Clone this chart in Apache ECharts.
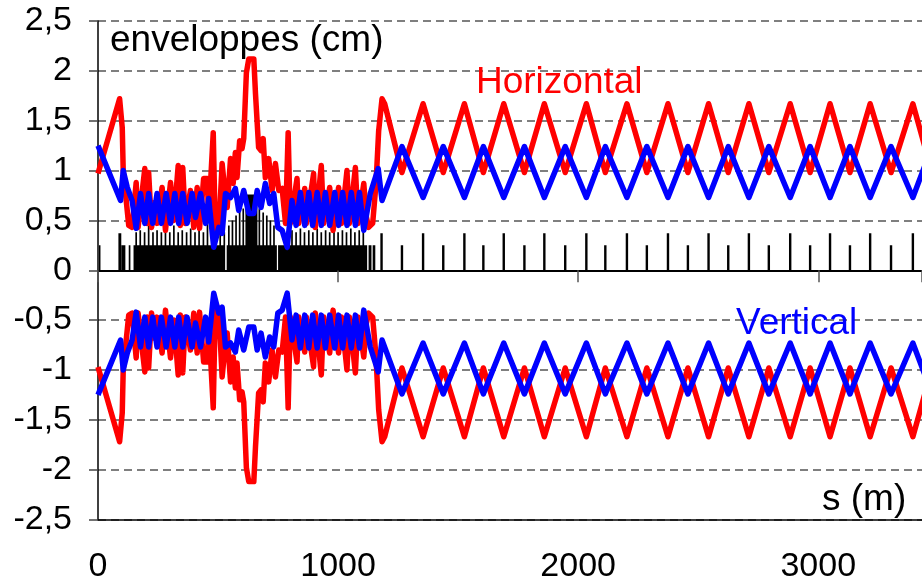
<!DOCTYPE html>
<html>
<head>
<meta charset="utf-8">
<script src="https://cdn.jsdelivr.net/npm/echarts@6/dist/echarts.min.js"></script>
<style>
html,body{margin:0;padding:0;background:#fff;}
#chart{width:922px;height:587px;}
</style>
</head>
<body>
<div id="chart"></div>
<script>
// s (m) vs envelope (cm), horizontal plane (upper half, mirrored below)
const horizontal = [
 [0,0.97],[90,1.72],[101,1.43],[105,1.0],[128,0.45],[142,0.43],[159,0.88],[167,0.43],[195,1.02],[205,0.47],
 [211,0.98],[223,0.43],[236,0.68],[246,0.47],[267,0.83],[281,0.40],[302,0.88],[316,0.50],[334,1.05],[343,0.45],
 [353,1.03],[364,0.47],[385,0.80],[399,0.43],[413,0.83],[423,0.42],[440,0.92],[455,0.92],[461,0.53],[480,1.38],
 [489,0.33],[503,0.40],[517,1.07],[524,0.90],[538,0.63],[552,1.12],[563,0.87],[572,1.18],[579,0.93],[590,1.30],
 [600,1.22],[607,1.32],[618,1.98],[628,2.12],[649,2.12],[656,1.77],[669,1.23],[679,1.20],[688,1.32],[697,0.93],
 [711,1.12],[725,0.80],[739,1.07],[753,0.80],[767,0.82],[781,0.47],[792,1.38],[801,0.47],[829,0.92],[836,0.47],
 [861,0.82],[868,0.47],[898,0.97],[905,0.43],[930,1.05],[940,0.47],[965,0.83],[979,0.40],[1002,0.83],[1014,0.47],
 [1037,1.00],[1047,0.47],[1072,1.03],[1083,0.47],[1107,0.87],[1118,0.53],[1127,0.43],[1144,0.47],[1158,0.87],[1169,1.40],
 [1183,1.72],[1194,1.67],[1266,0.98],[1354,1.67],[1438,0.98],[1526,1.67],[1605,0.98],[1690,1.67],[1776,0.98],[1859,1.67],
 [1946,0.98],[2034,1.67],[2113,0.98],[2203,1.67],[2286,0.98],[2374,1.67],[2457,0.98],[2543,1.67],[2625,0.98],[2711,1.67],
 [2794,0.98],[2883,1.67],[2966,0.98],[3049,1.67],[3132,0.98],[3216,1.67],[3303,0.98],[3394,1.67],[3474,0.98]
];
// vertical plane
const vertical = [
 [0,1.25],[94,0.70],[105,1.0],[122,0.83],[142,0.70],[159,0.42],[177,0.77],[195,0.47],[211,0.77],[228,0.47],
 [246,0.77],[264,0.47],[284,0.77],[302,0.47],[320,0.77],[336,0.47],[353,0.77],[371,0.47],[392,0.77],[406,0.53],
 [427,0.77],[448,0.47],[461,0.72],[482,0.23],[503,0.43],[517,0.37],[531,0.77],[552,0.73],[572,0.82],[586,0.60],
 [607,0.80],[628,0.57],[649,0.57],[663,0.80],[679,0.63],[697,0.87],[715,0.67],[732,0.77],[749,0.43],[767,0.40],
 [788,0.23],[808,0.70],[825,0.45],[843,0.78],[861,0.45],[878,0.78],[894,0.45],[913,0.78],[930,0.45],[947,0.78],
 [965,0.45],[986,0.78],[1002,0.45],[1019,0.78],[1037,0.45],[1055,0.78],[1072,0.45],[1089,0.78],[1107,0.40],[1134,0.77],
 [1167,1.02],[1183,0.70],[1266,1.24],[1354,0.73],[1438,1.24],[1526,0.73],[1605,1.24],[1690,0.73],[1776,1.24],[1859,0.73],
 [1946,1.24],[2034,0.73],[2113,1.24],[2203,0.73],[2286,1.24],[2374,0.73],[2457,1.24],[2543,0.73],[2625,1.24],[2711,0.73],
 [2794,1.24],[2883,0.73],[2966,1.24],[3049,0.73],[3132,1.24],[3216,0.73],[3303,1.24],[3394,0.73],[3474,1.24]
];
// lattice elements: [start s, end s, height]
const elements = [
 [4,10,0.25],[85,97,0.37],[97,114,0.25],[128,135,0.25],[148,529,0.25],[536,745,0.25],[750,1121,0.25],
 [1127,1139,0.25],[1144,1155,0.25],[1176,1186,0.37],[614,664,0.76],
 [1261,1271,0.25],[1349,1359,0.37],[1433,1443,0.25],[1521,1531,0.37],[1600,1610,0.25],[1685,1695,0.37],
 [1771,1781,0.25],[1854,1864,0.37],[1941,1951,0.25],[2029,2039,0.37],[2108,2118,0.25],[2198,2208,0.37],
 [2281,2291,0.25],[2369,2379,0.37],[2452,2462,0.25],[2538,2548,0.37],[2620,2630,0.25],[2706,2716,0.37],
 [2789,2799,0.25],[2878,2888,0.37],[2961,2971,0.25],[3044,3054,0.37],[3127,3137,0.25],[3211,3221,0.37],
 [3298,3308,0.25],[3389,3399,0.37]
];
// thin elements: [s, height]
const thinElements = [
 [159,0.38],[176,0.40],[194,0.38],[211,0.45],[229,0.38],[246,0.40],[264,0.38],[281,0.42],[299,0.38],[316,0.45],
 [334,0.38],[351,0.40],[369,0.38],[386,0.42],[404,0.38],[421,0.40],[439,0.38],[456,0.50],[474,0.38],[491,0.40],
 [509,0.38],[526,0.38],[545,0.45],[560,0.50],[575,0.55],[590,0.60],[605,0.62],[672,0.62],[688,0.58],[703,0.55],
 [718,0.50],[733,0.45],[790,0.38],[808,0.40],[825,0.38],[843,0.42],[860,0.38],[878,0.40],[895,0.38],[913,0.42],
 [930,0.38],[948,0.40],[965,0.38],[983,0.42],[1000,0.38],[1018,0.40],[1035,0.38],[1053,0.42],[1070,0.38],[1088,0.40],[1105,0.38]
];
const xTicks = [0, 1000, 2000, 3000];
const S_MAX = 3432;

const THIN_W = 7;
const blockData = elements.map(e => [e[0], e[1], e[2]])
  .concat(thinElements.map(t => [t[0] - THIN_W / 2, t[0] + THIN_W / 2, t[1]]));

const FONT = 'Liberation Sans';
const chart = echarts.init(document.getElementById('chart'), null, {renderer: 'canvas'});
const fmtY = v => {
  const r = Math.round(v * 10) / 10;
  return String(r).replace('.', ',');
};
const LW = 5.5;
const option = {
  animation: false,
  backgroundColor: '#ffffff',
  grid: {left: 98, right: 0, top: 21, bottom: 67.5},
  xAxis: [
    {
      type: 'value', min: 0, max: S_MAX, interval: 1000, position: 'bottom',
      axisLine: {show: true, onZero: true, lineStyle: {color: '#000', width: 2}},
      axisTick: {show: true, inside: false, length: 12, lineStyle: {color: '#555', width: 1.5}},
      axisLabel: {show: false},
      splitLine: {show: false}
    },
    {
      type: 'value', min: 0, max: S_MAX, interval: 1000, position: 'bottom',
      axisLine: {show: true, onZero: false, lineStyle: {color: '#000', width: 1.5}},
      axisTick: {show: false},
      axisLabel: {
        show: true, margin: 30, fontSize: 34, fontFamily: FONT, color: '#000',
        showMaxLabel: false,
        formatter: v => (xTicks.indexOf(v) >= 0 ? String(v) : '')
      },
      splitLine: {show: false}
    }
  ],
  yAxis: {
    type: 'value', min: -2.5, max: 2.5, interval: 0.5,
    axisLine: {show: true, onZero: false, lineStyle: {color: '#000', width: 1.5}},
    axisTick: {show: true, length: 9, lineStyle: {color: '#444', width: 1.5}},
    axisLabel: {margin: 26, fontSize: 34, fontFamily: FONT, color: '#000', formatter: fmtY},
    splitLine: {show: true, lineStyle: {type: [8, 5], color: '#555', width: 1.5}}
  },
  graphic: [
    {type: 'text', x: 110, y: 41, z: 100, style: {text: 'enveloppes (cm)', fontSize: 37, fontFamily: FONT, fill: '#000', align: 'left', verticalAlign: 'middle'}},
    {type: 'text', x: 476, y: 83, z: 100, style: {text: 'Horizontal', fontSize: 37, fontFamily: FONT, fill: '#ff0000', align: 'left', verticalAlign: 'middle'}},
    {type: 'text', x: 736, y: 324, z: 100, style: {text: 'Vertical', fontSize: 37, fontFamily: FONT, fill: '#0000ff', align: 'left', verticalAlign: 'middle'}},
    {type: 'text', x: 822, y: 500, z: 100, style: {text: 's (m)', fontSize: 37, fontFamily: FONT, fill: '#000', align: 'left', verticalAlign: 'middle'}}
  ],
  series: [
    {
      type: 'custom', xAxisIndex: 0, z: 1, clip: true,
      encode: {x: [0, 1], y: 2},
      renderItem: (params, api) => {
        const p0 = api.coord([api.value(0), api.value(2)]);
        const p1 = api.coord([api.value(1), 0]);
        return {type: 'rect', shape: {x: p0[0], y: p0[1], width: Math.max(p1[0] - p0[0], 1.5), height: p1[1] - p0[1]}, style: {fill: '#000'}};
      },
      data: blockData
    },
    {type: 'line', xAxisIndex: 0, z: 2, data: horizontal, showSymbol: false, symbol: 'none', clip: true,
      lineStyle: {color: '#ff0000', width: LW, join: 'round'}},
    {type: 'line', xAxisIndex: 0, z: 2, data: horizontal.map(p => [p[0], -p[1]]), showSymbol: false, symbol: 'none', clip: true,
      lineStyle: {color: '#ff0000', width: LW, join: 'round'}},
    {type: 'line', xAxisIndex: 0, z: 3, data: vertical, showSymbol: false, symbol: 'none', clip: true,
      lineStyle: {color: '#0000ff', width: LW, join: 'round'}},
    {type: 'line', xAxisIndex: 0, z: 3, data: vertical.map(p => [p[0], -p[1]]), showSymbol: false, symbol: 'none', clip: true,
      lineStyle: {color: '#0000ff', width: LW, join: 'round'}}
  ]
};
chart.setOption(option);
</script>
</body>
</html>
